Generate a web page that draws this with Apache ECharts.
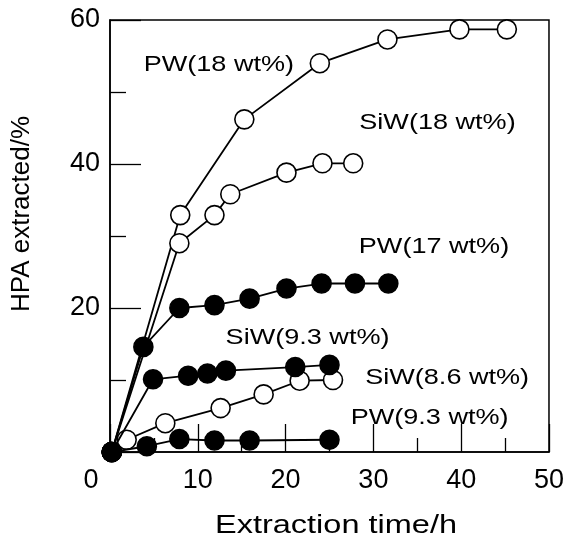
<!DOCTYPE html>
<html><head><meta charset="utf-8">
<script src="https://cdn.jsdelivr.net/npm/echarts@6/dist/echarts.min.js"></script>
<style>html,body{margin:0;padding:0;background:#fff}#c{width:567px;height:540px}</style>
</head><body><div id="c"></div>
<script>
// ---- data ----
const xTicks = [0, 10, 20, 30, 40, 50];
const yTicks = [0, 20, 40, 60];
const pw18  = [[0.2,0],[8,32.9],[15.3,46.2],[23.9,54],[31.6,57.3],[39.8,58.7],[45.2,58.7]];
const siw18 = [[0.2,0],[7.9,29],[11.9,32.9],[13.7,35.8],[20.1,38.8],[24.2,40.1],[27.7,40.1]];
const siw86 = [[0.2,0],[1.9,1.7],[6.3,4],[12.6,6.1],[17.5,8],[21.6,9.9],[25.4,10]];
const pw17  = [[0.2,0],[3.8,14.6],[7.9,20],[11.9,20.4],[15.9,21.3],[20.1,22.7],[24.1,23.4],[27.9,23.4],[31.7,23.4]];
const siw93 = [[0.2,0],[4.9,10.1],[8.9,10.6],[11.1,10.9],[13.2,11.3],[21.1,11.8],[25,12.1]];
const pw93  = [[0.2,0],[4.2,0.8],[7.9,1.8],[11.9,1.6],[15.9,1.6],[25,1.7]];
const seriesNames = ['PW(18 wt%)','SiW(18 wt%)','SiW(8.6 wt%)','PW(17 wt%)','SiW(9.3 wt%)','PW(9.3 wt%)'];
const labelText = ['PW(18 wt%)','SiW(18 wt%)','PW(17 wt%)','SiW(9.3 wt%)','SiW(8.6 wt%)','PW(9.3 wt%)'];
const labelPos  = [[12.4,53.7],[37.3,45.7],[36.9,28.5],[22.5,15.8],[38.4,10.3],[36.4,4.7]];
const xTitle = 'Extraction time/h';
const yTitle = 'HPA extracted/%';

const FONT = 'Liberation Sans, Arial, sans-serif';
const chart = echarts.init(document.getElementById('c'), null, {renderer:'canvas'});

function mk(name, data, filled){
  return {
    name, type:'line', data, symbol:'circle', symbolSize:19, showAllSymbol:true,
    lineStyle:{color:'#000', width:1.8},
    itemStyle:{color: filled ? '#000' : '#fff', borderColor:'#000', borderWidth:1.6},
    emphasis:{disabled:true}, z: filled ? 3 : 2
  };
}

chart.setOption({
  animation:false,
  backgroundColor:'#fff',
  grid:{left:110, right:18, top:20, bottom:88, show:true, borderColor:'#000', borderWidth:1.5},
  xAxis:{
    type:'value', min:0, max:50, interval:10,
    axisLine:{lineStyle:{color:'#000', width:1.5}},
    axisTick:{inside:true, length:28, lineStyle:{color:'#000', width:1.3}},
    minorTick:{show:true, splitNumber:2, length:14, lineStyle:{color:'#000', width:1.3}},
    splitLine:{show:false},
    axisLabel:{
      color:'#000', fontFamily:FONT, fontSize:27, margin:15,
      formatter: v => (v === xTicks[0] ? '{s|' + v + '}' : String(v)),
      rich:{s:{fontFamily:FONT, fontSize:27, color:'#000', padding:[0,38,0,0]}}
    }
  },
  yAxis:{
    type:'value', min:0, max:60, interval:20,
    axisLine:{lineStyle:{color:'#000', width:1.5}},
    axisTick:{inside:true, length:31, lineStyle:{color:'#000', width:1.3}},
    minorTick:{show:true, splitNumber:2, length:16, lineStyle:{color:'#000', width:1.3}},
    splitLine:{show:false},
    axisLabel:{color:'#000', fontFamily:FONT, fontSize:27, margin:10, showMinLabel:false}
  },
  series:[
    mk(seriesNames[0], pw18, false),
    mk(seriesNames[1], siw18, false),
    mk(seriesNames[2], siw86, false),
    mk(seriesNames[3], pw17, true),
    mk(seriesNames[4], siw93, true),
    mk(seriesNames[5], pw93, true)
  ]
});

const g = [];
labelText.forEach((t, i) => {
  const p = chart.convertToPixel({gridIndex:0}, labelPos[i]);
  g.push({type:'text', x:p[0], y:p[1], scaleX:1.23, z:10,
    style:{text:t, x:0, y:0, align:'center', verticalAlign:'middle', font:'22px ' + FONT, fill:'#000'}});
});
g.push({type:'text', x:336, y:526, scaleX:1.3, z:10,
  style:{text:xTitle, x:0, y:0, align:'center', verticalAlign:'middle', font:'25px ' + FONT, fill:'#000'}});
g.push({type:'text', x:22, y:214, rotation:Math.PI/2, z:10,
  style:{text:yTitle, x:0, y:0, align:'center', verticalAlign:'middle', font:'26px ' + FONT, fill:'#000'}});
chart.setOption({graphic:g});
</script>
</body></html>
